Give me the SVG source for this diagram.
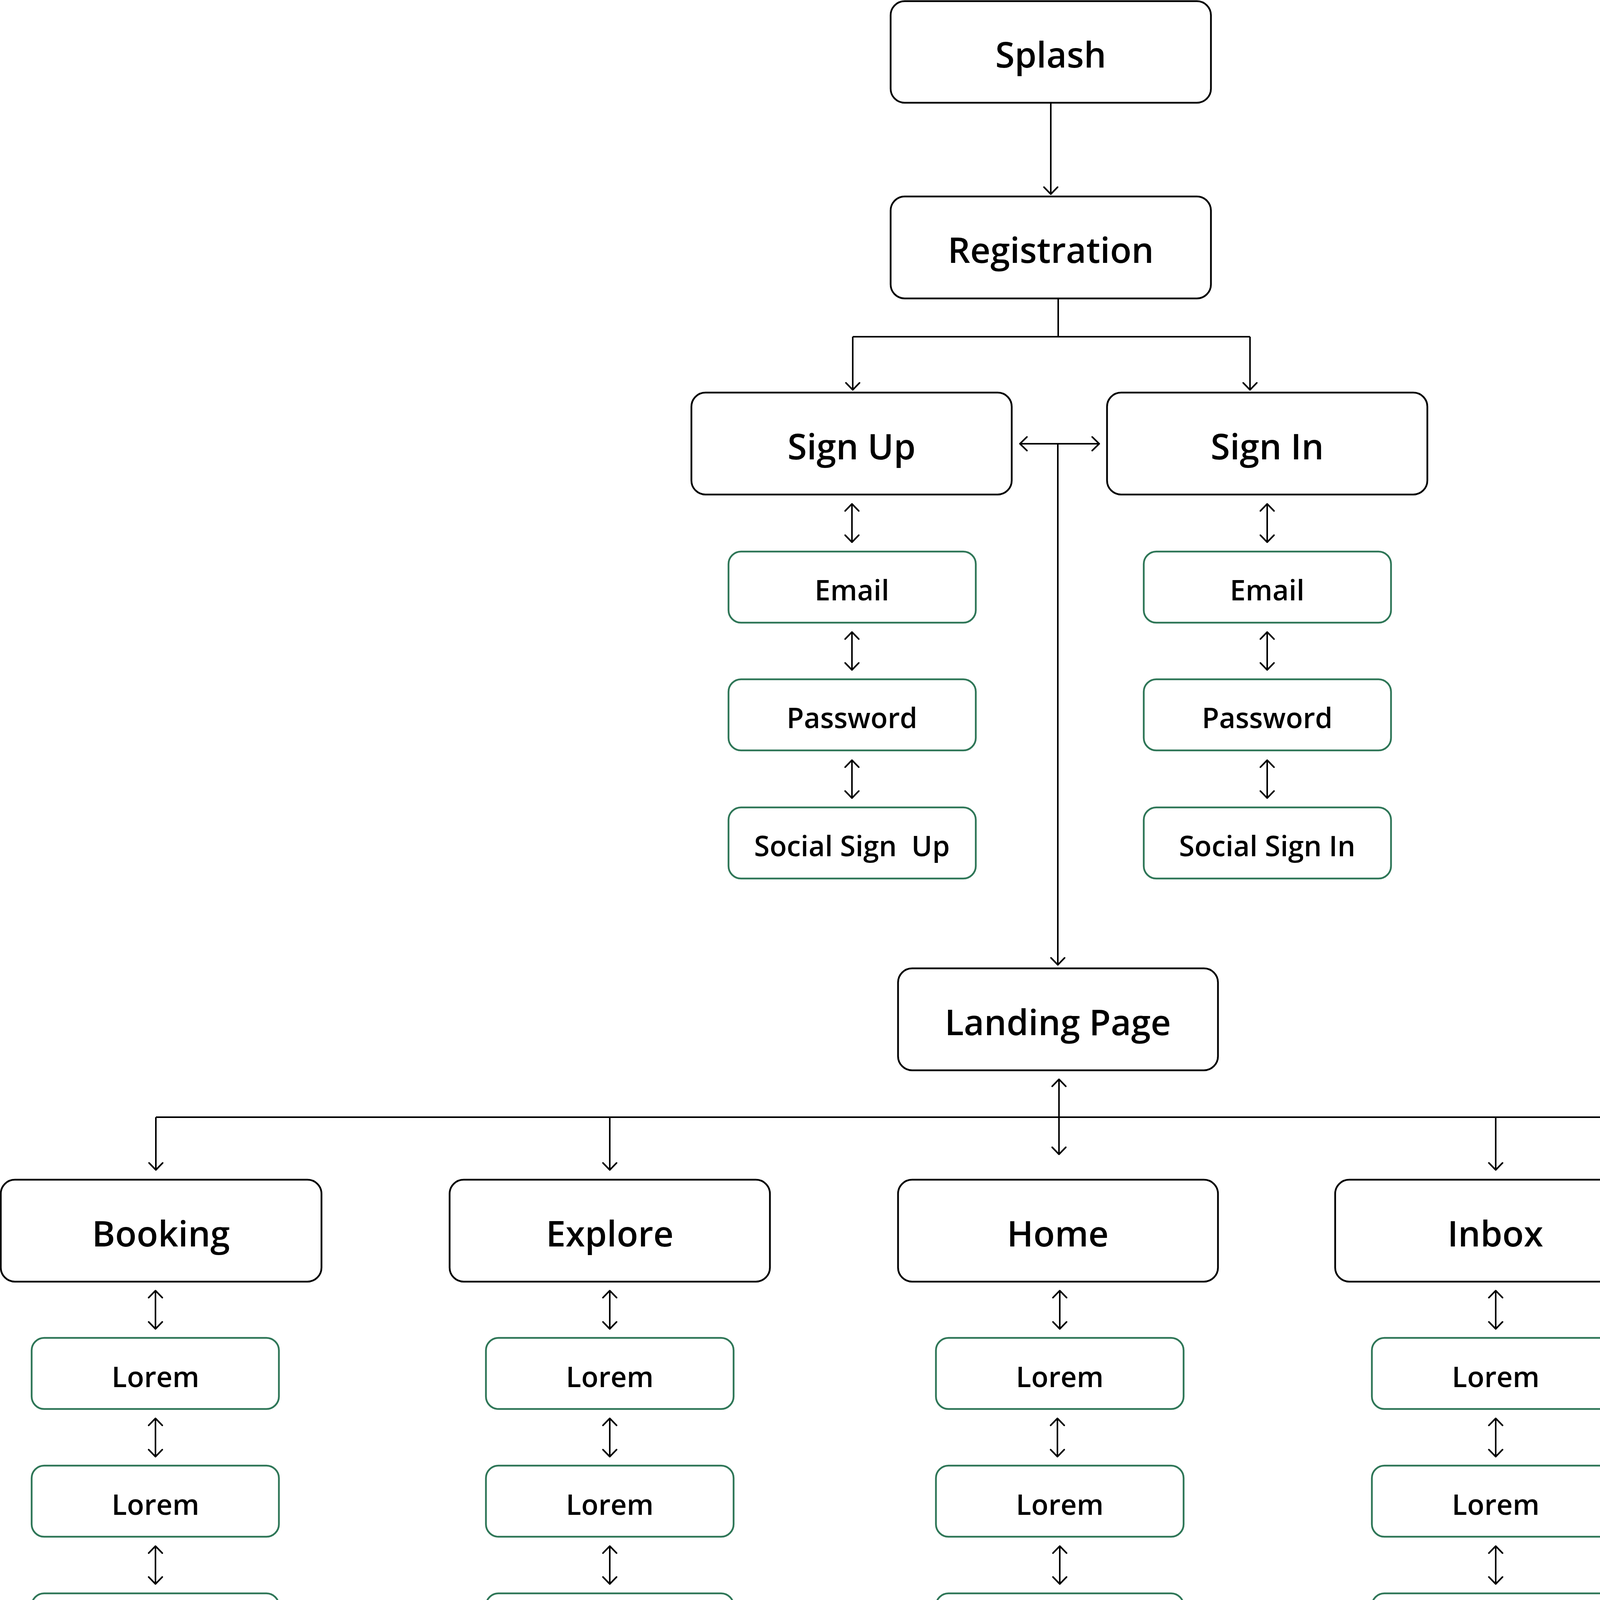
<svg xmlns="http://www.w3.org/2000/svg" width="5345" height="4591" viewBox="0 0 5345 4591">
<style>
.main rect{fill:#fff;stroke:#000;stroke-width:4.5}
.sub rect{fill:#fff;stroke:#2e7657;stroke-width:4.5}
.main text{font-family:"Open Sans","Noto Sans","DejaVu Sans",sans-serif;font-weight:600;font-size:90px;fill:#000;text-anchor:middle}
.sub text{font-family:"Open Sans","Noto Sans","DejaVu Sans",sans-serif;font-weight:600;font-size:72px;fill:#000;text-anchor:middle}
.c{fill:none;stroke:#000;stroke-width:4}
.a{marker-end:url(#ah)}
.b{marker-start:url(#ah);marker-end:url(#ah)}
</style>
<defs>
<marker id="ah" viewBox="-24 -22 28 44" refX="0" refY="0" markerWidth="28" markerHeight="44" markerUnits="userSpaceOnUse" orient="auto-start-reverse">
<path d="M-18,-17.5 L0,0 L-18,17.5" fill="none" stroke="#000" stroke-width="4" stroke-linecap="round" stroke-linejoin="round"/>
</marker>
</defs>
<rect width="5345" height="4591" fill="#fff"/>
<g id="connectors">
<path class="c a" d="M2690,263 V497"/>
<path class="c" d="M2709,764 V862 M2183,862 H3200"/>
<path class="c a" d="M2183,862 V998"/>
<path class="c a" d="M3200,862 V998"/>
<path class="c b" d="M2611,1136 H2814"/>
<path class="c a" d="M2708,1136 V2470"/>
<path class="c b" d="M2711,2763 V2955"/>
<path class="c" d="M399,2860 H4950"/>
<path class="c a" d="M399,2860 V2995"/>
<path class="c a" d="M1561,2860 V2995"/>
<path class="c a" d="M3829,2860 V2995"/>
<path class="c a" d="M4950,2860 V2995"/>
<path class="c b" d="M2181,1290 V1388"/><path class="c b" d="M2181,1618 V1715"/><path class="c b" d="M2181,1946 V2043"/>
<path class="c b" d="M3244,1290 V1388"/><path class="c b" d="M3244,1618 V1715"/><path class="c b" d="M3244,1946 V2043"/>
<path class="c b" d="M398,3304 V3402"/><path class="c b" d="M398,3631 V3729"/><path class="c b" d="M398,3958 V4055"/><path class="c b" d="M398,4285 V4382"/>
<path class="c b" d="M1561,3304 V3402"/><path class="c b" d="M1561,3631 V3729"/><path class="c b" d="M1561,3958 V4055"/><path class="c b" d="M1561,4285 V4382"/>
<path class="c b" d="M2713,3304 V3402"/><path class="c b" d="M2707,3631 V3729"/><path class="c b" d="M2713,3958 V4055"/><path class="c b" d="M2713,4285 V4382"/>
<path class="c b" d="M3829,3304 V3402"/><path class="c b" d="M3829,3631 V3729"/><path class="c b" d="M3829,3958 V4055"/><path class="c b" d="M3829,4285 V4382"/>
<path class="c b" d="M4950,3304 V3402"/><path class="c b" d="M4950,3631 V3729"/><path class="c b" d="M4950,3958 V4055"/><path class="c b" d="M4950,4285 V4382"/>
</g>
<g id="splash" class="main"><rect x="2280" y="3" width="820" height="260" rx="36"/><text x="2690" y="173">Splash</text></g>
<g id="registration" class="main"><rect x="2280" y="503" width="820" height="261" rx="36"/><text x="2690" y="673">Registration</text></g>
<g id="signup" class="main"><rect x="1770" y="1005" width="820" height="261" rx="36"/><text x="2180" y="1176">Sign Up</text></g>
<g id="signin" class="main"><rect x="2834" y="1005" width="820" height="261" rx="36"/><text x="3244" y="1176">Sign In</text></g>
<g id="signup-email" class="sub"><rect x="1865" y="1412" width="633" height="182" rx="32"/><text x="2181" y="1537">Email</text></g>
<g id="signup-password" class="sub"><rect x="1865" y="1739" width="633" height="182" rx="32"/><text x="2181" y="1864">Password</text></g>
<g id="signup-social" class="sub"><rect x="1865" y="2067" width="633" height="182" rx="32"/><text x="2181" y="2192" xml:space="preserve">Social Sign  Up</text></g>
<g id="signin-email" class="sub"><rect x="2928" y="1412" width="633" height="182" rx="32"/><text x="3244" y="1537">Email</text></g>
<g id="signin-password" class="sub"><rect x="2928" y="1739" width="633" height="182" rx="32"/><text x="3244" y="1864">Password</text></g>
<g id="signin-social" class="sub"><rect x="2928" y="2067" width="633" height="182" rx="32"/><text x="3244" y="2192">Social Sign In</text></g>
<g id="landing" class="main"><rect x="2299" y="2479" width="819" height="261" rx="36"/><text x="2708" y="2650">Landing Page</text></g>
<g id="booking" class="main"><rect x="2" y="3020" width="821" height="261" rx="36"/><text x="412" y="3191">Booking</text></g>
<g id="explore" class="main"><rect x="1151" y="3020" width="820" height="261" rx="36"/><text x="1561" y="3191">Explore</text></g>
<g id="home" class="main"><rect x="2299" y="3020" width="819" height="261" rx="36"/><text x="2708" y="3191">Home</text></g>
<g id="inbox" class="main"><rect x="3418" y="3020" width="820" height="261" rx="36"/><text x="3828" y="3191">Inbox</text></g>
<g id="settings" class="main"><rect x="4522" y="3020" width="820" height="261" rx="36"/><text x="4932" y="3191">Settings</text></g>
<g id="booking-1" class="sub"><rect x="81" y="3425" width="633" height="182" rx="32"/><text x="398" y="3551">Lorem</text></g>
<g id="booking-2" class="sub"><rect x="81" y="3752" width="633" height="182" rx="32"/><text x="398" y="3878">Lorem</text></g>
<g id="booking-3" class="sub"><rect x="81" y="4079" width="633" height="182" rx="32"/><text x="398" y="4205">Lorem</text></g>
<g id="booking-4" class="sub"><rect x="81" y="4406" width="633" height="182" rx="32"/><text x="398" y="4532">Lorem</text></g>
<g id="explore-1" class="sub"><rect x="1244" y="3425" width="634" height="182" rx="32"/><text x="1561" y="3551">Lorem</text></g>
<g id="explore-2" class="sub"><rect x="1244" y="3752" width="634" height="182" rx="32"/><text x="1561" y="3878">Lorem</text></g>
<g id="explore-3" class="sub"><rect x="1244" y="4079" width="634" height="182" rx="32"/><text x="1561" y="4205">Lorem</text></g>
<g id="explore-4" class="sub"><rect x="1244" y="4406" width="634" height="182" rx="32"/><text x="1561" y="4532">Lorem</text></g>
<g id="home-1" class="sub"><rect x="2396" y="3425" width="634" height="182" rx="32"/><text x="2713" y="3551">Lorem</text></g>
<g id="home-2" class="sub"><rect x="2396" y="3752" width="634" height="182" rx="32"/><text x="2713" y="3878">Lorem</text></g>
<g id="home-3" class="sub"><rect x="2396" y="4079" width="634" height="182" rx="32"/><text x="2713" y="4205">Lorem</text></g>
<g id="home-4" class="sub"><rect x="2396" y="4406" width="634" height="182" rx="32"/><text x="2713" y="4532">Lorem</text></g>
<g id="inbox-1" class="sub"><rect x="3512" y="3425" width="634" height="182" rx="32"/><text x="3829" y="3551">Lorem</text></g>
<g id="inbox-2" class="sub"><rect x="3512" y="3752" width="634" height="182" rx="32"/><text x="3829" y="3878">Lorem</text></g>
<g id="inbox-3" class="sub"><rect x="3512" y="4079" width="634" height="182" rx="32"/><text x="3829" y="4205">Lorem</text></g>
<g id="inbox-4" class="sub"><rect x="3512" y="4406" width="634" height="182" rx="32"/><text x="3829" y="4532">Lorem</text></g>
<g id="settings-1" class="sub"><rect x="4633" y="3425" width="634" height="182" rx="32"/><text x="4950" y="3551">Lorem</text></g>
<g id="settings-2" class="sub"><rect x="4633" y="3752" width="634" height="182" rx="32"/><text x="4950" y="3878">Lorem</text></g>
<g id="settings-3" class="sub"><rect x="4633" y="4079" width="634" height="182" rx="32"/><text x="4950" y="4205">Lorem</text></g>
<g id="settings-4" class="sub"><rect x="4633" y="4406" width="634" height="182" rx="32"/><text x="4950" y="4532">Lorem</text></g>
</svg>
